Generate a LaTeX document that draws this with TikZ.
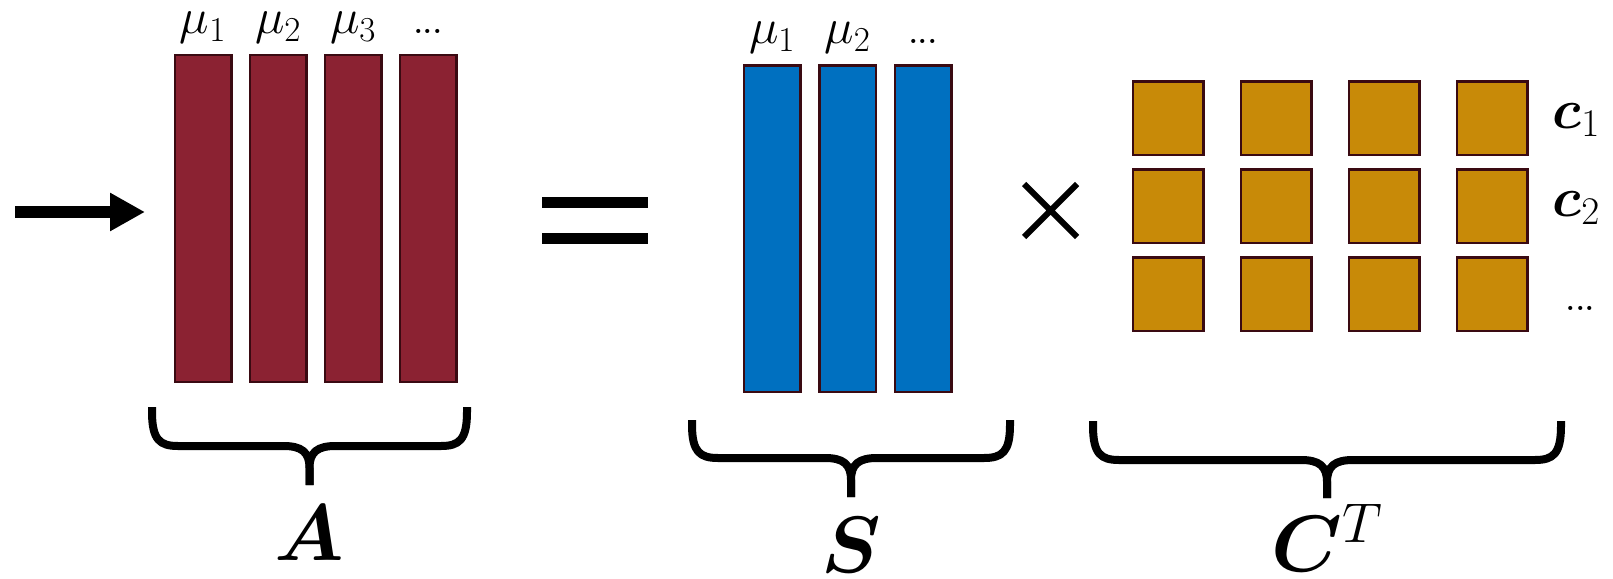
\RequirePackage{fix-cm}
\documentclass[tikz,border=0pt]{standalone}
\usepackage{bm}
\usetikzlibrary{positioning,arrows.meta}

\definecolor{barred}{HTML}{8B2232}
\definecolor{barblue}{HTML}{0070C0}
\definecolor{sqgold}{HTML}{C88A08}
\definecolor{edgedark}{HTML}{3A0A12}

\newcommand{\tightdots}{.\kern-3pt.\kern-3pt.}

\tikzset{
  colbar/.style={draw=edgedark, line width=2.5pt, minimum width=56.5pt, minimum height=326.5pt, inner sep=0pt},
  cellsq/.style={draw=edgedark, line width=2.5pt, fill=sqgold, minimum width=70.5pt, minimum height=73.5pt, inner sep=0pt},
  toplabel/.style={font=\fontsize{50}{56}\selectfont, inner sep=0pt, text height=24pt, text depth=12pt},
  rowlabel/.style={font=\fontsize{56}{62}\selectfont, inner sep=0pt, text height=32pt, text depth=12pt},
  biglabel/.style={font=\fontsize{80}{86}\selectfont, inner sep=0pt},
  bracestroke/.style={line width=8pt, line cap=butt, line join=round},
}

% underbrace from x=#1 to x=#2, ends at #3, bar at #4, tip at #5, tip named #6
\newcommand{\drawbrace}[6]{%
  \pgfmathsetmacro\bmid{(#1+#2)/2}
  \draw[bracestroke] (#1,#3) -- (#1,#3+5) .. controls (#1,#4-6) and (#1+8,#4) .. (#1+26,#4)
    -- (\bmid-26,#4) .. controls (\bmid-8,#4) and (\bmid,#4+6) .. (\bmid,#4+22) -- (\bmid,#5);
  \draw[bracestroke] (#2,#3) -- (#2,#3+5) .. controls (#2,#4-6) and (#2-8,#4) .. (#2-26,#4)
    -- (\bmid+26,#4) .. controls (\bmid+8,#4) and (\bmid,#4+6) .. (\bmid,#4+22) -- (\bmid,#5);
  \coordinate (#6) at (\bmid,#5);
}

\begin{document}
\begin{tikzpicture}[x=1pt,y=-1pt]
  \useasboundingbox (0,0) rectangle (1613,578);

  % input arrow
  \coordinate (arrowtail) at (15,212);
  \coordinate (arrowtip) at (145,212);
  \draw[line width=12pt, -{Triangle[length=35pt,width=36pt]}] (arrowtail) -- (arrowtip);

  % matrix A
  \foreach \i in {1,...,4}
    \node[colbar, fill=barred] (barA\i) at (128+75*\i,218.5) {};
  \foreach \i/\t in {1/$\mu_1$, 2/$\mu_2$, 3/$\mu_3$, 4/\tightdots}
    \node[toplabel, above=8pt of barA\i] (muA\i) {\t};

  % equals
  \fill (542,197) rectangle (648,208);
  \fill (542,233) rectangle (648,244);

  % matrix S
  \foreach \i in {1,2,3}
    \node[colbar, fill=barblue] (barS\i) at (696.5+75.5*\i,228.5) {};
  \foreach \i/\t in {1/$\mu_1$, 2/$\mu_2$, 3/\tightdots}
    \node[toplabel, above=8pt of barS\i] (muS\i) {\t};

  % times
  \draw[line width=6pt] (1024,184) -- (1077,237) (1024,237) -- (1077,184);

  % matrix C^T
  \foreach \c in {1,...,4}
    \foreach \r in {1,2,3}
      \node[cellsq] (cell-\c-\r) at (1060+108*\c,30+88*\r) {};
  \node[rowlabel, right=24pt of cell-4-1] (rowc1) {$\bm{c}_1$};
  \node[rowlabel, right=24pt of cell-4-2] (rowc2) {$\bm{c}_2$};
  \node[toplabel, right=36pt of cell-4-3, yshift=-10pt] (rowc3) {\tightdots};

  % braces
  \drawbrace{152}{467}{407}{446}{485}{tipA}
  \drawbrace{692}{1010}{420}{458}{497}{tipS}
  \drawbrace{1093}{1561}{421}{460}{498}{tipC}
  \node[biglabel, below=20pt of tipA] (labA) {$\bm{A}$};
  \node[biglabel, below=20pt of tipS] (labS) {$\bm{S}$};
  \node[biglabel, below=6pt of tipC] (labC) {$\bm{C}^{T}$};
\end{tikzpicture}
\end{document}
